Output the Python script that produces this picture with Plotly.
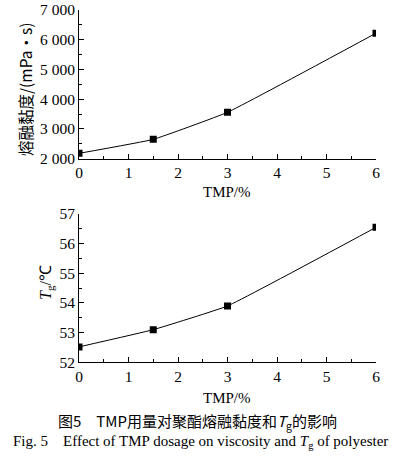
import plotly.graph_objects as go

tmp_pct = [0, 1.5, 3, 6]
viscosity = [2180, 2650, 3560, 6220]
tg = [52.52, 53.1, 53.9, 56.55]

x_ticks = [0, 1, 2, 3, 4, 5, 6]
visc_ticks = [2000, 3000, 4000, 5000, 6000, 7000]
visc_tick_labels = ["2 000", "3 000", "4 000", "5 000", "6 000", "7 000"]
tg_ticks = [52, 53, 54, 55, 56, 57]

W, H = 393, 459
SERIF = "Liberation Serif"
CJK = "Noto Sans CJK SC"

def px_x(px):
    return px / W

def px_y(px):
    return 1 - px / H

fig = go.Figure()
line = dict(color="black", width=1, shape="spline", smoothing=0.3)
marker = dict(symbol="square", size=7, color="black")
fig.add_trace(go.Scatter(x=tmp_pct, y=viscosity, mode="lines+markers", line=line,
                         marker=marker, xaxis="x", yaxis="y", showlegend=False))
fig.add_trace(go.Scatter(x=tmp_pct, y=tg, mode="lines+markers", line=line,
                         marker=marker, xaxis="x2", yaxis="y2", showlegend=False))

xd = [px_x(79), px_x(376)]
axis_common = dict(showline=True, linecolor="black", linewidth=1, ticks="inside",
                   ticklen=5, tickcolor="black", tickwidth=1, showgrid=False,
                   zeroline=False, automargin=False, ticklabeloverflow="allow",
                   tickfont=dict(family=SERIF, size=15.5, color="black"),
                   mirror=False)
fig.update_layout(
    width=W, height=H, margin=dict(l=0, r=0, t=0, b=0, autoexpand=False),
    font=dict(family=SERIF, color="black"),
    paper_bgcolor="white", plot_bgcolor="white",
    xaxis=dict(domain=xd, range=[0, 6], tickvals=x_ticks, anchor="y",
               minor=dict(ticks="inside", ticklen=3, dtick=0.5, tick0=0, tickcolor="black"),
               **axis_common),
    yaxis=dict(domain=[px_y(158.7), px_y(10)], range=[2000, 7000], tickvals=visc_ticks,
               ticktext=visc_tick_labels, anchor="x",
               minor=dict(ticks="inside", ticklen=3, dtick=500, tick0=2000, tickcolor="black"),
               **axis_common),
    xaxis2=dict(domain=xd, range=[0, 6], tickvals=x_ticks, anchor="y2",
                minor=dict(ticks="inside", ticklen=3, dtick=0.5, tick0=0, tickcolor="black"),
                **axis_common),
    yaxis2=dict(domain=[px_y(362.3), px_y(214)], range=[52, 57], tickvals=tg_ticks, anchor="x2",
                minor=dict(ticks="inside", ticklen=3, dtick=0.5, tick0=52, tickcolor="black"),
                **axis_common),
)

def note(text, cx, cy, family, size, angle=0):
    return dict(text=text, x=px_x(cx), y=px_y(cy), xref="paper", yref="paper",
                xanchor="center", yanchor="middle", showarrow=False, textangle=angle,
                font=dict(family=family, size=size, color="black"))

ann = [
    note("TMP/%", 227, 192, SERIF, 15),
    note("TMP/%", 227, 398, SERIF, 15),
    note("熔融黏度/(mPa·s)", 25, 90, CJK, 15.5, -90),
    note("<i>T</i><sub>g</sub>/℃", 46, 283, SERIF, 16, -90),
    note("图5　TMP用量对聚酯熔融黏度和<i>T</i><sub>g</sub>的影响", 198, 421, CJK, 15),
    note("Fig. 5　Effect of TMP dosage on viscosity and <i>T</i><sub>g</sub> of polyester",
         201, 442, SERIF, 15),
]
fig.update_layout(annotations=ann)

fig.write_html("out.html", config={"displayModeBar": False},
               post_script="document.body.style.margin='0';")
